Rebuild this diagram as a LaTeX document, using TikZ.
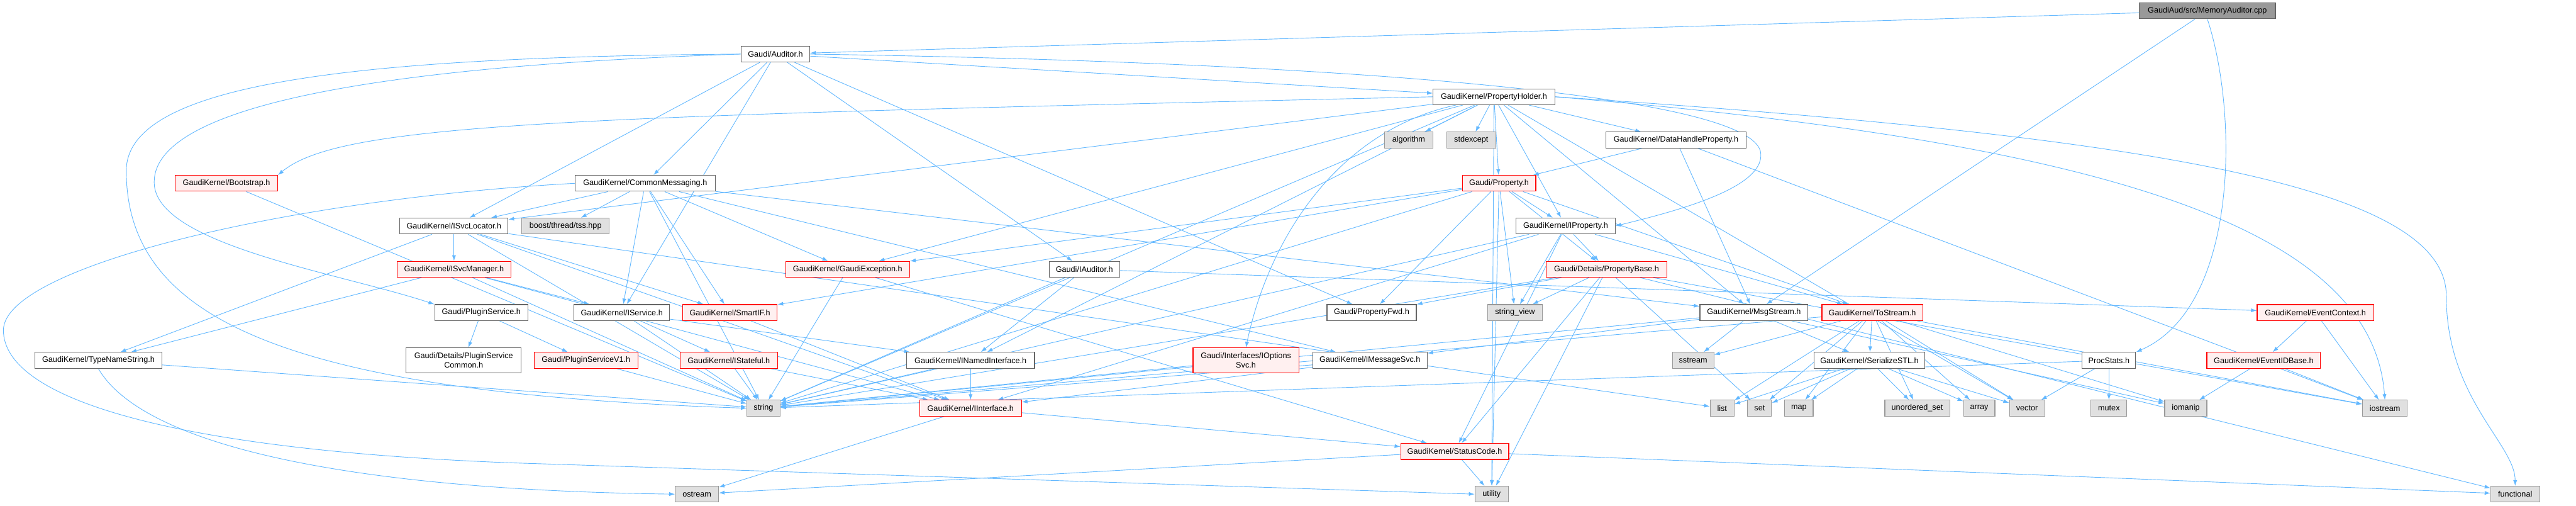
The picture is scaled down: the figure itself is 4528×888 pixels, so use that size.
\documentclass[tikz,border=0pt]{standalone}
\usepackage{fontspec}
\setmainfont{Liberation Sans}
\usetikzlibrary{arrows.meta}
\pgfdeclarelayer{background}
\pgfsetlayers{background,main}
\definecolor{edgeblue}{HTML}{63B8FF}
\definecolor{truncfill}{HTML}{FFF0F0}
\definecolor{sysfill}{HTML}{E0E0E0}
\definecolor{sysline}{HTML}{999999}
\definecolor{hdrline}{HTML}{666666}
\tikzset{
  box/.style={rectangle, line width=1.2pt, minimum height=28pt, inner xsep=3pt, inner ysep=2pt, font=\fontsize{14}{16}\selectfont},
  hdr/.style={box, draw=hdrline, fill=white},
  trunc/.style={box, draw=red, fill=truncfill},
  sysinc/.style={box, draw=sysline, fill=sysfill},
  rootfile/.style={box, draw=hdrline, fill=sysline},
  dep/.style={draw=edgeblue, line width=1pt, -{Latex[length=10pt,width=7pt]}},
}
\begin{document}
\begin{tikzpicture}[x=1pt,y=-1pt]
\useasboundingbox (0,0) rectangle (4528,888);
% headers
\node[rootfile, minimum width=239pt] (root) at (3880,19) {GaudiAud/src/MemoryAuditor.cpp};
\node[hdr, minimum width=121pt] (audit) at (1363,95) {Gaudi/Auditor.h};
\node[hdr, minimum width=214pt] (propholder) at (2626,170) {GaudiKernel/PropertyHolder.h};
\node[sysinc, minimum width=85pt] (algorithm) at (2476,246) {algorithm};
\node[sysinc, minimum width=86pt] (stdexcept) at (2586,246) {stdexcept};
\node[hdr, minimum width=247pt] (dhprop) at (2946,246) {GaudiKernel/DataHandleProperty.h};
\node[hdr, minimum width=246pt] (commsg) at (1134,322) {GaudiKernel/CommonMessaging.h};
\node[trunc, minimum width=180pt] (bootstrap) at (398,322) {GaudiKernel/Bootstrap.h};
\node[trunc, minimum width=129pt] (property) at (2635,322) {Gaudi/Property.h};
\node[hdr, minimum width=190pt] (svcloc) at (798,397) {GaudiKernel/ISvcLocator.h};
\node[sysinc, minimum width=154pt] (tss) at (994,397) {boost/thread/tss.hpp};
\node[hdr, minimum width=174pt] (iproperty) at (2752,397) {GaudiKernel/IProperty.h};
\node[trunc, minimum width=200pt] (svcmgr) at (798,473) {GaudiKernel/ISvcManager.h};
\node[trunc, minimum width=218pt] (gexcept) at (1490,473) {GaudiKernel/GaudiException.h};
\node[hdr, minimum width=124pt] (iauditor) at (1906,473) {Gaudi/IAuditor.h};
\node[trunc, minimum width=213pt] (propbase) at (2824,473) {Gaudi/Details/PropertyBase.h};
\node[hdr, minimum width=164pt] (plugsvc) at (846,549) {Gaudi/PluginService.h};
\node[hdr, minimum width=168pt] (iservice) at (1093,549) {GaudiKernel/IService.h};
\node[trunc, minimum width=166pt] (smartif) at (1283,549) {GaudiKernel/SmartIF.h};
\node[hdr, minimum width=157pt] (propfwd) at (2411,549) {Gaudi/PropertyFwd.h};
\node[sysinc, minimum width=97pt] (strview) at (2663,549) {string\_view};
\node[hdr, minimum width=190pt] (msgstream) at (3083,549) {GaudiKernel/MsgStream.h};
\node[trunc, minimum width=177pt] (tostream) at (3291,549) {GaudiKernel/ToStream.h};
\node[trunc, minimum width=205pt] (evctx) at (4070,549) {GaudiKernel/EventContext.h};
\node[hdr, minimum width=223pt] (typename) at (173,633) {GaudiKernel/TypeNameString.h};
\node[hdr, minimum width=202pt, minimum height=44pt, align=center] (plugcommon) at (815,633) {Gaudi/Details/PluginService\\Common.h};
\node[trunc, minimum width=182pt] (plugv1) at (1030,633) {Gaudi/PluginServiceV1.h};
\node[trunc, minimum width=171pt] (istateful) at (1281,633) {GaudiKernel/IStateful.h};
\node[hdr, minimum width=225pt] (inamed) at (1706,633) {GaudiKernel/INamedInterface.h};
\node[trunc, minimum width=186pt, minimum height=44pt, align=center] (optsvc) at (2190,633) {Gaudi/Interfaces/IOptions\\Svc.h};
\node[hdr, minimum width=201pt] (imsgsvc) at (2408,633) {GaudiKernel/IMessageSvc.h};
\node[sysinc, minimum width=73pt] (sstream) at (2976,633) {sstream};
\node[hdr, minimum width=195pt] (serial) at (3286,633) {GaudiKernel/SerializeSTL.h};
\node[hdr, minimum width=94pt] (procstats) at (3707,633) {ProcStats.h};
\node[trunc, minimum width=200pt] (evid) at (3979,633) {GaudiKernel/EventIDBase.h};
% system headers, lowest ranks
\node[sysinc, minimum width=58pt] (string) at (1342,717) {string};
\node[trunc, minimum width=179pt] (iinterface) at (1706,717) {GaudiKernel/IInterface.h};
\node[sysinc, minimum width=42pt] (list) at (3027,717) {list};
\node[sysinc, minimum width=42pt] (set) at (3093,717) {set};
\node[sysinc, minimum width=50pt] (map) at (3162,717) {map};
\node[sysinc, minimum width=114pt] (uset) at (3370,717) {unordered\_set};
\node[sysinc, minimum width=55pt] (array) at (3479,717) {array};
\node[sysinc, minimum width=62pt] (vector) at (3563,717) {vector};
\node[sysinc, minimum width=63pt] (mutex) at (3707,717) {mutex};
\node[sysinc, minimum width=74pt] (iomanip) at (3842,717) {iomanip};
\node[sysinc, minimum width=79pt] (iostream) at (4192,717) {iostream};
\node[trunc, minimum width=190pt] (statuscode) at (2557,793) {GaudiKernel/StatusCode.h};
\node[sysinc, minimum width=76pt] (ostream) at (1225,868) {ostream};
\node[sysinc, minimum width=59pt] (utility) at (2622,868) {utility};
\node[sysinc, minimum width=86pt] (functional) at (4421,868) {functional};
% include edges
\begin{pgfonlayer}{background}
\foreach \a/\b in {root/audit, root/msgstream,
  audit/propholder, audit/commsg, audit/iauditor, audit/svcloc, audit/iservice, audit/propfwd,
  propholder/algorithm, propholder/stdexcept, propholder/property, propholder/iproperty,
  propholder/dhprop, propholder/svcloc, propholder/msgstream, propholder/gexcept,
  propholder/inamed, propholder/string, propholder/vector, propholder/utility,
  commsg/tss, commsg/svcloc, commsg/iservice, commsg/smartif, commsg/gexcept,
  commsg/msgstream, commsg/imsgsvc, commsg/string,
  bootstrap/string,
  svcloc/svcmgr, svcloc/typename, svcloc/smartif, svcloc/string, svcloc/iinterface, svcloc/list,
  svcmgr/typename, svcmgr/iservice, svcmgr/string, svcmgr/iinterface,
  typename/string,
  plugsvc/plugcommon, plugsvc/plugv1, plugv1/string,
  iservice/istateful, iservice/inamed, iservice/string,
  smartif/iinterface,
  gexcept/string, gexcept/statuscode,
  istateful/string, istateful/iinterface,
  inamed/iinterface, inamed/string,
  iinterface/ostream, iinterface/statuscode,
  iauditor/inamed, iauditor/evctx, iauditor/string,
  property/propbase, property/tostream, property/iproperty, property/gexcept, property/smartif,
  property/propfwd, property/strview, property/utility, property/string,
  dhprop/property, dhprop/msgstream, dhprop/iostream,
  iproperty/propbase, iproperty/strview, iproperty/iinterface, iproperty/statuscode,
  iproperty/tostream, iproperty/string,
  propbase/strview, propbase/propfwd, propbase/string, propbase/utility, propbase/statuscode,
  propbase/set, propbase/iostream, propbase/functional,
  optsvc/string, imsgsvc/iinterface, imsgsvc/string,
  msgstream/sstream, msgstream/serial, msgstream/imsgsvc, msgstream/iomanip, msgstream/string,
  tostream/sstream, tostream/serial, tostream/list, tostream/set, tostream/map, tostream/uset,
  tostream/array, tostream/vector, tostream/iomanip, tostream/iostream, tostream/string,
  serial/list, serial/set, serial/map, serial/uset, serial/array, serial/vector,
  statuscode/utility, statuscode/ostream, statuscode/functional,
  procstats/mutex, procstats/vector, procstats/string,
  evctx/evid, evctx/iostream, evid/iomanip, evid/iostream}
  \draw[dep] (\a) -- (\b);
% long routed edges
\draw[dep] (audit.west) .. controls (600,100) and (222,150) .. (222,300) .. controls (222,560) and (500,690) .. (string.west);
\draw[dep] (audit.west) .. controls (700,115) and (271,180) .. (271,320) .. controls (271,430) and (600,480) .. (plugsvc.north west);
\draw[dep] (audit.east) .. controls (2400,110) and (3090,170) .. (3095,270) .. controls (3100,330) and (2950,370) .. (iproperty.east);
\draw[dep] (propholder.west) .. controls (1000,205) and (600,215) .. (bootstrap.north east);
\draw[dep] (propholder) .. controls (2350,230) and (2230,420) .. (optsvc.north);
\draw[dep] (propholder.east) .. controls (3800,240) and (4300,330) .. (4300,520) .. controls (4300,700) and (4421,780) .. (functional.north);
\draw[dep] (propholder.east) .. controls (3700,250) and (4170,400) .. (iostream.north);
\draw[dep] (commsg.west) .. controls (500,350) and (6,470) .. (6,580) .. controls (6,700) and (300,790) .. (900,813) -- (utility.west);
\draw[dep] (typename.south) .. controls (250,780) and (600,860) .. (ostream.west);
\draw[dep] (root.south) .. controls (3935,200) and (3935,540) .. (procstats.north east);
\end{pgfonlayer}
\end{tikzpicture}
\end{document}
